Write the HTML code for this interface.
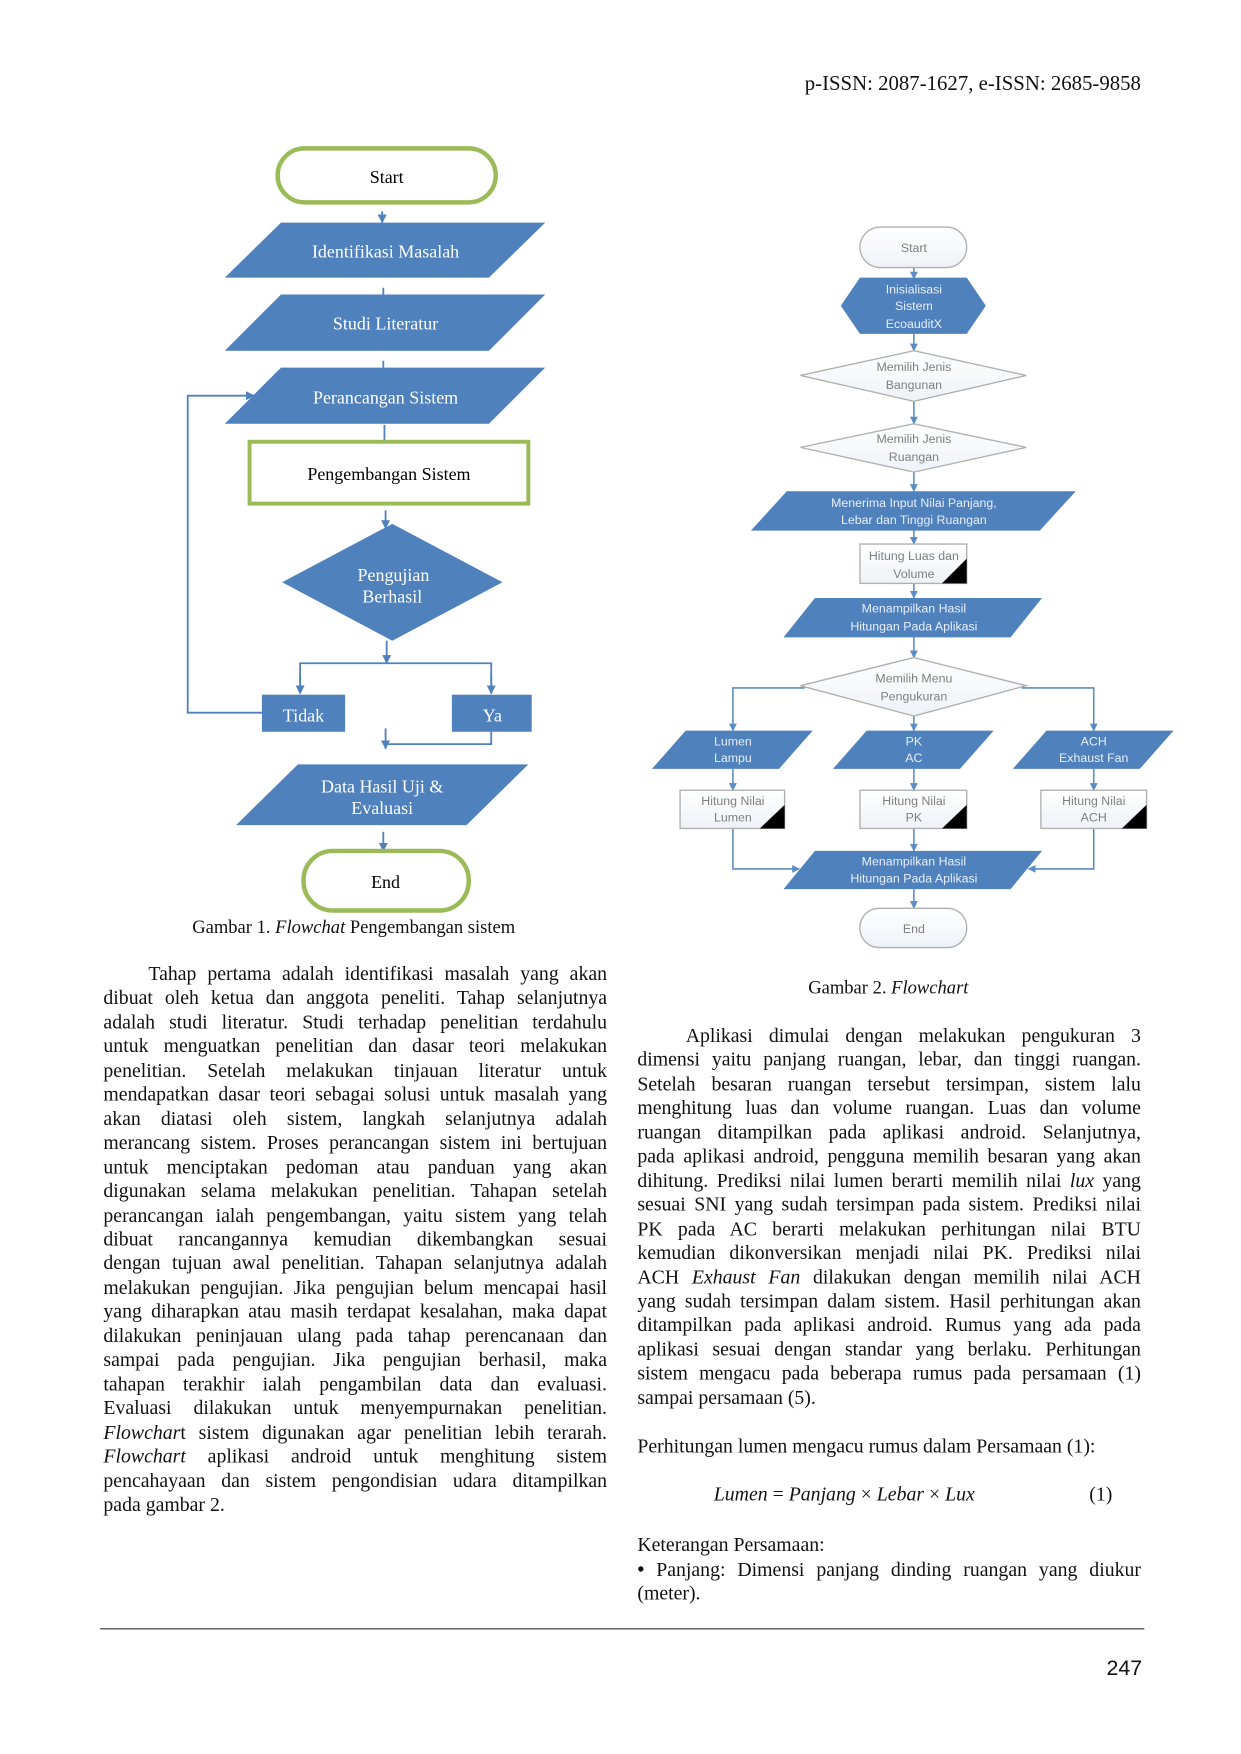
<!DOCTYPE html>
<html><head><meta charset="utf-8"><style>
html,body{margin:0;padding:0;background:#fff;}
body{width:1241px;height:1754px;overflow:hidden;position:relative;}
#pg{position:absolute;left:0;top:0;width:1104px;height:1560px;transform:scale(1.12409);transform-origin:0 0;font-family:"Liberation Serif",serif;color:#111;}
.col{position:absolute;font-size:17.6px;line-height:21.45px;}
.col div{text-align:justify;text-align-last:justify;white-space:nowrap;overflow:visible;}
.col div.l{text-align-last:left;}
.t{position:absolute;white-space:nowrap;}
svg{position:absolute;left:0;top:0;}
</style></head><body><div id="pg">
<div class="t" style="right:89px;top:65px;font-size:18.5px;">p-ISSN: 2087-1627, e-ISSN: 2685-9858</div>

<svg width="1104" height="1560" viewBox="0 0 1104 1560">
<defs>
<marker id="a" viewBox="0 0 10 10" refX="9" refY="5" markerWidth="5" markerHeight="5" orient="auto"><path d="M0,0L10,5L0,10z" fill="#4f81bd"/></marker>
<marker id="b" viewBox="0 0 10 10" refX="9" refY="5" markerWidth="5" markerHeight="5" orient="auto"><path d="M0,0L10,5L0,10z" fill="#5b8cc4"/></marker>
<linearGradient id="g" x1="0" y1="0" x2="0" y2="1"><stop offset="0" stop-color="#fff"/><stop offset="1" stop-color="#eef2f7"/></linearGradient>
</defs>
<g font-family="Liberation Serif,serif" font-size="16" text-anchor="middle">
<rect x="247" y="132" width="194" height="48" rx="24" fill="#fff" stroke="#9bbb59" stroke-width="4"/>
<text x="344" y="163" fill="#000">Start</text>
<g stroke="#4f81bd" stroke-width="1.6" fill="none">
<line x1="340" y1="188" x2="340" y2="198" marker-end="url(#a)"/>
<line x1="341" y1="256" x2="341" y2="262"/>
<line x1="341" y1="321" x2="341" y2="327"/>
<line x1="342" y1="378" x2="342" y2="406" marker-end="url(#a)"/>
<line x1="343" y1="454" x2="343" y2="470" marker-end="url(#a)"/>
<polyline points="344,570 344,590"  marker-end="url(#a)"/>
<polyline points="267,616 267,590 437,590 437,616" />
<line x1="267" y1="600" x2="267" y2="617" marker-end="url(#a)"/>
<line x1="437" y1="600" x2="437" y2="617" marker-end="url(#a)"/>
<polyline points="233,634 167,634 167,352 226,352" marker-end="url(#a)"/>
<polyline points="437,651 437,662 343,662"/>
<line x1="343" y1="648" x2="343" y2="666" marker-end="url(#a)"/>
<line x1="341" y1="740" x2="341" y2="757" marker-end="url(#a)"/>
</g>
<g fill="#4f81bd">
<polygon points="200,247 250,198 485,198 435,247"/>
<polygon points="200,312 250,262 485,262 435,312"/>
<polygon points="200,377 250,327 485,327 435,377"/>
<polygon points="349,466 447,518 349,570 251,518"/>
<rect x="233" y="618" width="74" height="33"/>
<rect x="402" y="618" width="71" height="33"/>
<polygon points="210,734 265,680 470,680 415,734"/>
</g>
<g fill="#fff">
<text x="343" y="229">Identifikasi Masalah</text>
<text x="343" y="293">Studi Literatur</text>
<text x="343" y="359">Perancangan Sistem</text>
<text x="350" y="517">Pengujian</text>
<text x="349" y="536">Berhasil</text>
<text x="270" y="642">Tidak</text>
<text x="438" y="642">Ya</text>
<text x="340" y="705">Data Hasil Uji &amp;</text>
<text x="340" y="724">Evaluasi</text>
</g>
<rect x="222" y="393" width="248" height="55" fill="#fff" stroke="#9bbb59" stroke-width="3.5"/>
<text x="346" y="427" fill="#000">Pengembangan Sistem</text>
<rect x="270" y="757" width="147" height="53" rx="26" fill="#fff" stroke="#9bbb59" stroke-width="4"/>
<text x="343" y="790" fill="#000">End</text>
</g>

<g font-family="Liberation Sans,sans-serif" font-size="11" text-anchor="middle">
<g stroke="#5b8cc4" stroke-width="1.4" fill="none">
<line x1="813" y1="238" x2="813" y2="248" marker-end="url(#b)"/>
<line x1="813" y1="297" x2="813" y2="312" marker-end="url(#b)"/>
<line x1="813" y1="357" x2="813" y2="377" marker-end="url(#b)"/>
<line x1="813" y1="420" x2="813" y2="437" marker-end="url(#b)"/>
<line x1="813" y1="472" x2="813" y2="484" marker-end="url(#b)"/>
<line x1="813" y1="519" x2="813" y2="532" marker-end="url(#b)"/>
<line x1="813" y1="567" x2="813" y2="585" marker-end="url(#b)"/>
<polyline points="716,612 652,612 652,650" marker-end="url(#b)"/>
<polyline points="909,612 973,612 973,650" marker-end="url(#b)"/>
<line x1="813" y1="637" x2="813" y2="650" marker-end="url(#b)"/>
<line x1="652" y1="684" x2="652" y2="703" marker-end="url(#b)"/>
<line x1="813" y1="684" x2="813" y2="703" marker-end="url(#b)"/>
<line x1="973" y1="684" x2="973" y2="703" marker-end="url(#b)"/>
<polyline points="652,737 652,773 711,773" marker-end="url(#b)"/>
<polyline points="973,737 973,773 915,773" marker-end="url(#b)"/>
<line x1="813" y1="737" x2="813" y2="757" marker-end="url(#b)"/>
<line x1="813" y1="791" x2="813" y2="808" marker-end="url(#b)"/>
</g>
<g fill="url(#g)" stroke="#b0b0b0" stroke-width="1.2">
<rect x="765" y="202" width="95" height="36" rx="18"/>
<polygon points="813,312 913,334 813,357 712,334"/>
<polygon points="813,377 913,398 813,420 712,398"/>
<rect x="765" y="484" width="95" height="35"/>
<polygon points="813,585 913,610 813,637 712,610"/>
<rect x="605" y="703" width="93" height="34"/>
<rect x="765" y="703" width="95" height="34"/>
<rect x="926" y="703" width="94" height="34"/>
<rect x="765" y="808" width="95" height="35" rx="17"/>
</g>
<g fill="#000">
<polygon points="860,497 860,519 838,519"/>
<polygon points="698,716 698,737 676,737"/>
<polygon points="860,716 860,737 838,737"/>
<polygon points="1020,716 1020,737 998,737"/>
</g>
<g fill="#4f81bd">
<polygon points="748,272 765,247 860,247 877,272 860,297 765,297"/>
<polygon points="668,472 700,437 957,437 925,472"/>
<polygon points="697,567 725,532 927,532 899,567"/>
<polygon points="580,684 610,650 723,650 693,684"/>
<polygon points="741,684 771,650 884,650 854,684"/>
<polygon points="901,684 931,650 1044,650 1014,684"/>
<polygon points="697,791 725,757 927,757 899,791"/>
</g>
<g fill="#7f7f7f">
<text x="813" y="224">Start</text>
<text x="813" y="330">Memilih Jenis</text><text x="813" y="346">Bangunan</text>
<text x="813" y="394">Memilih Jenis</text><text x="813" y="410">Ruangan</text>
<text x="813" y="498">Hitung Luas dan</text><text x="813" y="514">Volume</text>
<text x="813" y="607">Memilih Menu</text><text x="813" y="623">Pengukuran</text>
<text x="652" y="716">Hitung Nilai</text><text x="652" y="731">Lumen</text>
<text x="813" y="716">Hitung Nilai</text><text x="813" y="731">PK</text>
<text x="973" y="716">Hitung Nilai</text><text x="973" y="731">ACH</text>
<text x="813" y="830">End</text>
</g>
<g fill="#e6eef8">
<text x="813" y="261">Inisialisasi</text><text x="813" y="276">Sistem</text><text x="813" y="292">EcoauditX</text>
<text x="813" y="451">Menerima Input Nilai Panjang,</text><text x="813" y="466">Lebar dan Tinggi Ruangan</text>
<text x="813" y="545">Menampilkan Hasil</text><text x="813" y="561">Hitungan Pada Aplikasi</text>
<text x="652" y="663">Lumen</text><text x="652" y="678">Lampu</text>
<text x="813" y="663">PK</text><text x="813" y="678">AC</text>
<text x="973" y="663">ACH</text><text x="973" y="678">Exhaust Fan</text>
<text x="813" y="770">Menampilkan Hasil</text><text x="813" y="785">Hitungan Pada Aplikasi</text>
</g>
</g>
<line x1="89" y1="1449" x2="1018" y2="1449" stroke="#555" stroke-width="1.3"/>
</svg>

<div class="t" style="left:171px;top:815px;font-size:16.5px;">Gambar 1. <i>Flowchat</i> Pengembangan sistem</div>
<div class="t" style="left:719px;top:869px;font-size:16.5px;">Gambar 2. <i>Flowchart</i></div>

<div class="col" style="left:92px;top:856px;width:448px;">
<div style="padding-left:40px">Tahap pertama adalah identifikasi masalah yang akan</div>
<div>dibuat oleh ketua dan anggota peneliti. Tahap selanjutnya</div>
<div>adalah studi literatur. Studi terhadap penelitian terdahulu</div>
<div>untuk menguatkan penelitian dan dasar teori melakukan</div>
<div>penelitian. Setelah melakukan tinjauan literatur untuk</div>
<div>mendapatkan dasar teori sebagai solusi untuk masalah yang</div>
<div>akan diatasi oleh sistem, langkah selanjutnya adalah</div>
<div>merancang sistem. Proses perancangan sistem ini bertujuan</div>
<div>untuk menciptakan pedoman atau panduan yang akan</div>
<div>digunakan selama melakukan penelitian. Tahapan setelah</div>
<div>perancangan ialah pengembangan, yaitu sistem yang telah</div>
<div>dibuat rancangannya kemudian dikembangkan sesuai</div>
<div>dengan tujuan awal penelitian. Tahapan selanjutnya adalah</div>
<div>melakukan pengujian. Jika pengujian belum mencapai hasil</div>
<div>yang diharapkan atau masih terdapat kesalahan, maka dapat</div>
<div>dilakukan peninjauan ulang pada tahap perencanaan dan</div>
<div>sampai pada pengujian. Jika pengujian berhasil, maka</div>
<div>tahapan terakhir ialah pengambilan data dan evaluasi.</div>
<div>Evaluasi dilakukan untuk menyempurnakan penelitian.</div>
<div><i>Flowchar</i>t sistem digunakan agar penelitian lebih terarah.</div>
<div><i>Flowchart</i> aplikasi android untuk menghitung sistem</div>
<div>pencahayaan dan sistem pengondisian udara ditampilkan</div>
<div class="l">pada gambar 2.</div>
</div>

<div class="col" style="left:567px;top:911px;width:448px;">
<div style="padding-left:43px">Aplikasi dimulai dengan melakukan pengukuran 3</div>
<div>dimensi yaitu panjang ruangan, lebar, dan tinggi ruangan.</div>
<div>Setelah besaran ruangan tersebut tersimpan, sistem lalu</div>
<div>menghitung luas dan volume ruangan. Luas dan volume</div>
<div>ruangan ditampilkan pada aplikasi android. Selanjutnya,</div>
<div>pada aplikasi android, pengguna memilih besaran yang akan</div>
<div>dihitung. Prediksi nilai lumen berarti memilih nilai <i>lux</i> yang</div>
<div>sesuai SNI yang sudah tersimpan pada sistem. Prediksi nilai</div>
<div>PK pada AC berarti melakukan perhitungan nilai BTU</div>
<div>kemudian dikonversikan menjadi nilai PK. Prediksi nilai</div>
<div>ACH <i>Exhaust Fan</i> dilakukan dengan memilih nilai ACH</div>
<div>yang sudah tersimpan dalam sistem. Hasil perhitungan akan</div>
<div>ditampilkan pada aplikasi android. Rumus yang ada pada</div>
<div>aplikasi sesuai dengan standar yang berlaku. Perhitungan</div>
<div>sistem mengacu pada beberapa rumus pada persamaan (1)</div>
<div class="l">sampai persamaan (5).</div>
</div>

<div class="t" style="left:567px;top:1276px;font-size:17.6px;">Perhitungan lumen mengacu rumus dalam Persamaan (1):</div>
<div class="t" style="left:635px;top:1319px;font-size:17.6px;"><i>Lumen</i> = <i>Panjang</i> × <i>Lebar</i> × <i>Lux</i></div>
<div class="t" style="left:969px;top:1319px;font-size:17.6px;">(1)</div>
<div class="t" style="left:567px;top:1364px;font-size:17.6px;">Keterangan Persamaan:</div>
<div class="col" style="left:567px;top:1386px;width:448px;">
<div><b>•</b> Panjang: Dimensi panjang dinding ruangan yang diukur</div>
<div class="l">(meter).</div>
</div>
<div class="t" style="right:88px;top:1474px;font-size:19px;font-family:'Liberation Sans',sans-serif;">247</div>
</div></body></html>
